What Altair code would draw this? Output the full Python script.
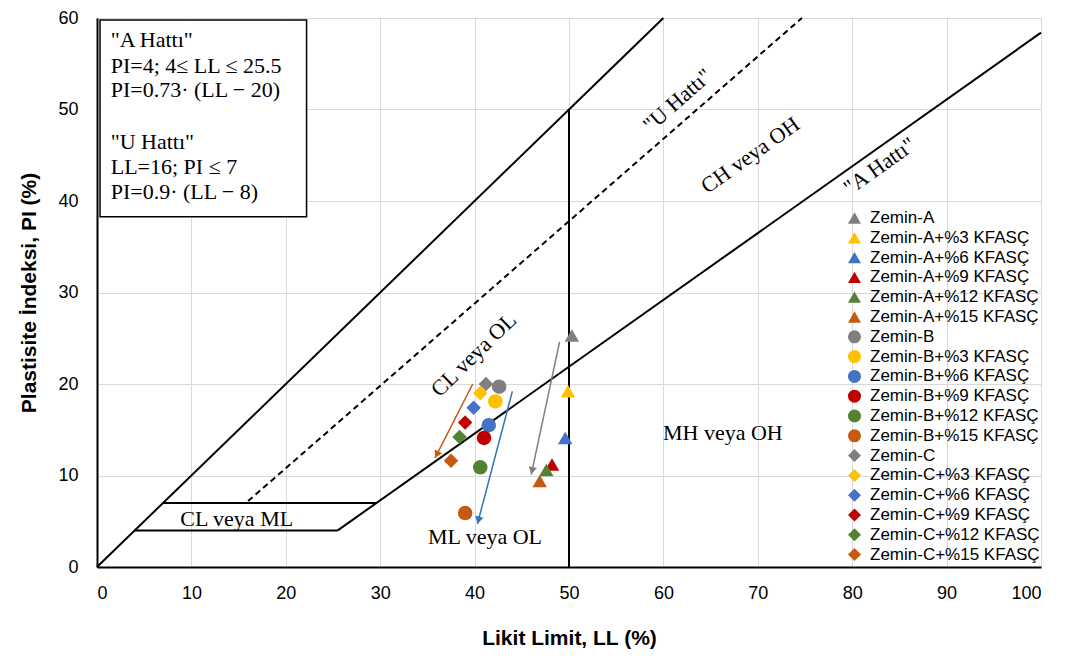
import math
import altair as alt
import pandas as pd

# ---------------- data ----------------
series = [
    "Zemin-A", "Zemin-A+%3 KFASÇ", "Zemin-A+%6 KFASÇ", "Zemin-A+%9 KFASÇ",
    "Zemin-A+%12 KFASÇ", "Zemin-A+%15 KFASÇ",
    "Zemin-B", "Zemin-B+%3 KFASÇ", "Zemin-B+%6 KFASÇ", "Zemin-B+%9 KFASÇ",
    "Zemin-B+%12 KFASÇ", "Zemin-B+%15 KFASÇ",
    "Zemin-C", "Zemin-C+%3 KFASÇ", "Zemin-C+%6 KFASÇ", "Zemin-C+%9 KFASÇ",
    "Zemin-C+%12 KFASÇ", "Zemin-C+%15 KFASÇ",
]
ll_values = [50.3, 49.9, 49.6, 48.2, 47.6, 46.9,
             42.6, 42.2, 41.5, 41.0, 40.6, 39.0,
             41.2, 40.6, 39.9, 39.0, 38.4, 37.5]
pi_values = [25.3, 19.2, 14.1, 11.2, 10.6, 9.4,
             19.7, 18.1, 15.5, 14.1, 10.9, 5.9,
             20.0, 19.0, 17.4, 15.8, 14.2, 11.6]
palette = ["#7F7F7F", "#FFC000", "#4472C4", "#C00000", "#548235", "#C55A11"]
colors = palette * 3
shapes = ["triangle-up"] * 6 + ["circle"] * 6 + ["diamond"] * 6

# boundary lines (solid)
seg_x1 = [0, 25.5, 4, 7, 50]
seg_y1 = [0, 4.0, 4, 7, 0]
seg_x2 = [60, 100, 25.5, 29.59, 50]
seg_y2 = [60, 58.4, 4, 7, 50]
# U line (dashed)
u_x1, u_y1, u_x2, u_y2 = [16], [7.2], [74.67], [60]

# arrows
arr_x1 = [39.8, 49.0, 44.0]
arr_y1 = [20.0, 24.6, 19.2]
arr_x2 = [35.8, 46.0, 40.3]
arr_y2 = [11.9, 10.1, 4.7]
arr_col = ["#C55A11", "#7F7F7F", "#2E75B6"]

# zone labels
zone_text = ["CL veya OL", "\"U Hattı\"", "CH veya OH", "\"A Hattı\"",
             "MH veya OH", "ML veya OL", "CL veya ML"]
zone_x = [39.9, 61.5, 69.2, 82.9, 66.3, 41.1, 14.8]
zone_y = [23.2, 51.0, 45.0, 43.8, 14.65, 3.3, 5.3]
zone_angle = [315.6, 318.6, 324.5, 324.5, 0, 0, 0]

# info box
box_lines = ["\"A Hattı\"", "PI=4; 4≤ LL ≤ 25.5", "PI=0.73· (LL − 20)",
             "\"U Hattı\"", "LL=16; PI ≤ 7", "PI=0.9· (LL − 8)"]
box_line_y = [57.6, 54.7, 52.13, 46.5, 43.75, 41.0]
box_x0, box_x1, box_y0, box_y1 = 0.32, 22.2, 38.28, 59.78

# ---------------- chart ----------------
W, H = 944, 549
sx, sy = W / 100.0, H / 60.0

xs = alt.Scale(domain=[0, 100], nice=False, zero=False)
ys = alt.Scale(domain=[0, 60], nice=False, zero=False)

x_axis = alt.Axis(values=list(range(0, 101, 10)), title="Likit Limit, LL (%)",
                  labelFontSize=18, labelFont="Liberation Sans", labelColor="#000000",
                  titleFontSize=21, titleFont="Liberation Sans", titleFontWeight="bold",
                  titleColor="#000000", titlePadding=25, labelPadding=17,
                  ticks=False, domainColor="#000000", domainWidth=2,
                  gridColor="#D9D9D9", gridWidth=1)
y_axis = alt.Axis(values=list(range(0, 61, 10)), title="Plastisite İndeksi, PI (%)",
                  labelFontSize=18, labelFont="Liberation Sans", labelColor="#000000",
                  titleFontSize=21, titleFont="Liberation Sans", titleFontWeight="bold",
                  titleColor="#000000", titlePadding=18, labelPadding=19,
                  ticks=False, domainColor="#000000", domainWidth=2,
                  gridColor="#D9D9D9", gridWidth=1)

seg_df = pd.DataFrame({"x1": seg_x1, "y1": seg_y1, "x2": seg_x2, "y2": seg_y2})
solid = alt.Chart(seg_df).mark_rule(color="black", strokeWidth=2).encode(
    x=alt.X("x1:Q", scale=xs, axis=x_axis),
    y=alt.Y("y1:Q", scale=ys, axis=y_axis),
    x2="x2:Q", y2="y2:Q")

u_df = pd.DataFrame({"x1": u_x1, "y1": u_y1, "x2": u_x2, "y2": u_y2})
dashed = alt.Chart(u_df).mark_rule(color="black", strokeWidth=2, strokeDash=[6, 4]).encode(
    x=alt.X("x1:Q", scale=xs), y=alt.Y("y1:Q", scale=ys), x2="x2:Q", y2="y2:Q")

box_df = pd.DataFrame({"x1": [box_x0], "x2": [box_x1], "y1": [box_y0], "y2": [box_y1]})
box = alt.Chart(box_df).mark_rect(fill="white", stroke="black", strokeWidth=1.5).encode(
    x=alt.X("x1:Q", scale=xs), x2="x2:Q", y=alt.Y("y1:Q", scale=ys), y2="y2:Q")

box_txt_df = pd.DataFrame({"t": box_lines, "y": box_line_y, "x": [1.45] * len(box_lines)})
box_txt = alt.Chart(box_txt_df).mark_text(align="left", baseline="middle",
                                          font="Liberation Serif", fontSize=22,
                                          color="black").encode(
    x=alt.X("x:Q", scale=xs), y=alt.Y("y:Q", scale=ys), text="t:N")

zone_df = pd.DataFrame({"t": zone_text, "x": zone_x, "y": zone_y, "a": zone_angle})
zones = alt.Chart(zone_df).mark_text(align="center", baseline="middle",
                                     font="Liberation Serif", fontSize=22,
                                     color="black").encode(
    x=alt.X("x:Q", scale=xs), y=alt.Y("y:Q", scale=ys), text="t:N",
    angle=alt.Angle("a:Q", scale=None))

# arrows: shaft + head
heads_x, heads_y, heads_a = [], [], []
for x1, y1, x2, y2 in zip(arr_x1, arr_y1, arr_x2, arr_y2):
    dx = (x2 - x1) * sx
    dy = -(y2 - y1) * sy
    L = math.hypot(dx, dy)
    ux, uy = dx / L, dy / L
    back = 4.0
    heads_x.append(x2 - ux * back / sx)
    heads_y.append(y2 + uy * back / sy)
    heads_a.append(math.degrees(math.atan2(dx, -dy)) % 360)

arr_df = pd.DataFrame({"x1": arr_x1, "y1": arr_y1, "x2": arr_x2, "y2": arr_y2,
                       "c": arr_col, "hx": heads_x, "hy": heads_y, "ha": heads_a})
shafts = alt.Chart(arr_df).mark_rule(strokeWidth=1.5).encode(
    x=alt.X("x1:Q", scale=xs), y=alt.Y("y1:Q", scale=ys), x2="x2:Q", y2="y2:Q",
    stroke=alt.Stroke("c:N", scale=None, legend=None))
heads = alt.Chart(arr_df).mark_point(shape="triangle-up", filled=True, size=70,
                                     opacity=1, strokeWidth=0).encode(
    x=alt.X("hx:Q", scale=xs), y=alt.Y("hy:Q", scale=ys),
    fill=alt.Fill("c:N", scale=None, legend=None),
    angle=alt.Angle("ha:Q", scale=None))

pts_df = pd.DataFrame({"s": series, "ll": ll_values, "pi": pi_values})
legend = alt.Legend(orient="none", legendX=749, legendY=191.5, padding=0,
                    labelFont="Liberation Sans", labelFontSize=17, labelColor="#000000",
                    symbolSize=170, symbolStrokeWidth=0, rowPadding=1.8, labelOffset=7,
                    labelLimit=300)
points = alt.Chart(pts_df).mark_point(filled=True, size=210, opacity=1).encode(
    x=alt.X("ll:Q", scale=xs), y=alt.Y("pi:Q", scale=ys),
    color=alt.Color("s:N", scale=alt.Scale(domain=series, range=colors),
                    legend=legend, title=None, sort=series),
    shape=alt.Shape("s:N", scale=alt.Scale(domain=series, range=shapes),
                    legend=legend, title=None, sort=series))

chart = alt.layer(solid, dashed, shafts, heads, zones, points, box, box_txt).properties(
    width=W, height=H,
    autosize=alt.AutoSizeParams(type="none"),
    padding={"left": 89, "top": 10, "right": 16, "bottom": 90},
).configure_view(stroke="#595959", strokeWidth=1.5).configure(background="white")

chart.save("out.html", embed_options={"renderer": "svg", "actions": False})
